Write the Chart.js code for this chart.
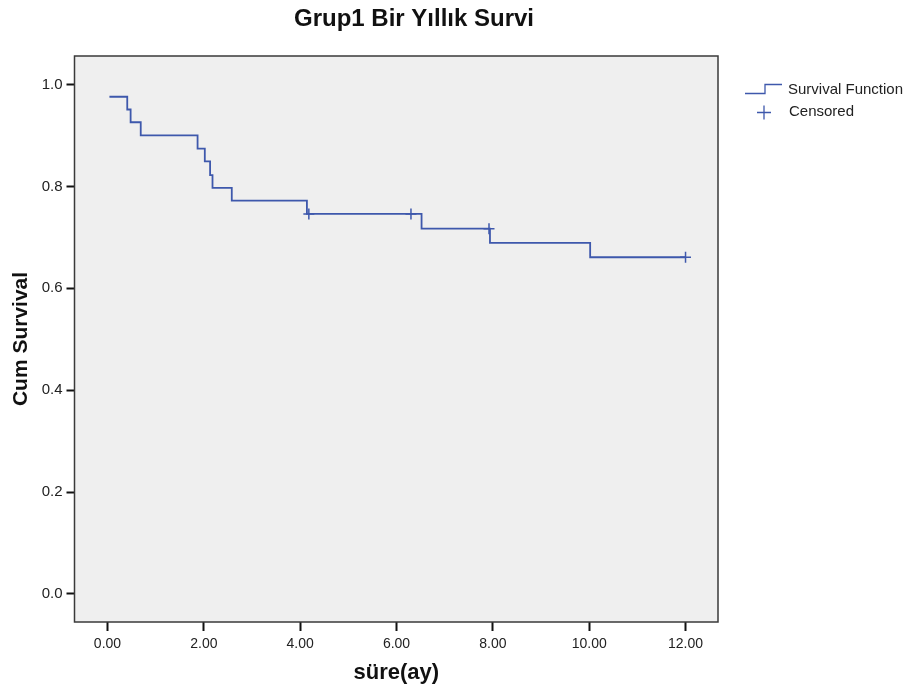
<!DOCTYPE html>
<html><head><meta charset="utf-8">
<script src="https://cdn.jsdelivr.net/npm/chart.js@4.4.1/dist/chart.umd.min.js"></script>
<style>html,body{margin:0;padding:0;background:#fff;} #wrap{width:924px;height:693px;position:relative}</style>
</head><body><div id="wrap"><canvas id="c" width="924" height="693"></canvas></div>
<script>
const chartTitle = 'Grup1 Bir Yıllık Survi';
const xAxisTitle = 'süre(ay)';
const yAxisTitle = 'Cum Survival';
const seriesNames = ['Survival Function', 'Censored'];
const eventTimes = [0.04, 0.41, 0.48, 0.69, 1.87, 2.02, 2.13, 2.18, 2.58, 4.14, 6.52, 7.94, 10.02, 12.0];
const survival   = [0.976, 0.951, 0.926, 0.900, 0.874, 0.849, 0.822, 0.797, 0.772, 0.746, 0.717, 0.689, 0.661, 0.661];
const censorTimes = [4.18, 6.30, 7.92, 12.0];
const censorSurvival = [0.746, 0.746, 0.717, 0.661];
const xTickValues = [0, 2, 4, 6, 8, 10, 12];
const xTickLabels = ['0.00', '2.00', '4.00', '6.00', '8.00', '10.00', '12.00'];
const yTickValues = [0, 0.2, 0.4, 0.6, 0.8, 1.0];
const yTickLabels = ['0.0', '0.2', '0.4', '0.6', '0.8', '1.0'];

const FONT = "'Liberation Sans', Arial, sans-serif";
const BLUE = '#3e58ac';

const framePlugin = {
  id: 'frame',
  beforeDraw(chart) {
    const {ctx, chartArea: a} = chart;
    ctx.save();
    ctx.fillStyle = '#efefef';
    ctx.fillRect(a.left, a.top, a.right - a.left, a.bottom - a.top);
    ctx.restore();
  },
  afterDatasetsDraw(chart) {
    const {ctx, chartArea: a} = chart;
    ctx.save();
    ctx.strokeStyle = '#3a3a3a';
    ctx.lineWidth = 1.5;
    ctx.strokeRect(a.left, a.top, a.right - a.left, a.bottom - a.top);
    ctx.restore();
  }
};

const titleLegendPlugin = {
  id: 'titleLegend',
  afterDraw(chart) {
    const ctx = chart.ctx;
    ctx.save();
    ctx.fillStyle = '#111';
    ctx.font = "bold 24px " + FONT;
    ctx.textAlign = 'center';
    ctx.textBaseline = 'alphabetic';
    ctx.fillText(chartTitle, 414, 26);
    // legend: step icon
    ctx.strokeStyle = BLUE;
    ctx.lineWidth = 1.3;
    ctx.beginPath();
    ctx.moveTo(745, 93.5); ctx.lineTo(765, 93.5); ctx.lineTo(765, 84.5); ctx.lineTo(782, 84.5);
    ctx.stroke();
    // cross
    ctx.beginPath();
    ctx.moveTo(757, 112.5); ctx.lineTo(771, 112.5);
    ctx.moveTo(764, 105.5); ctx.lineTo(764, 119.5);
    ctx.stroke();
    ctx.fillStyle = '#222';
    ctx.font = "15px " + FONT;
    ctx.textAlign = 'left';
    ctx.textBaseline = 'middle';
    ctx.fillText(seriesNames[0], 788, 90);
    ctx.fillText(seriesNames[1], 789, 112);
    ctx.restore();
  }
};

new Chart(document.getElementById('c'), {
  type: 'scatter',
  data: {
    datasets: [
      {
        label: seriesNames[0],
        data: eventTimes.map((t, i) => ({x: t, y: survival[i]})),
        showLine: true,
        stepped: 'before',
        borderColor: BLUE,
        borderWidth: 1.8,
        pointRadius: 0,
        fill: false
      },
      {
        label: seriesNames[1],
        data: censorTimes.map((t, i) => ({x: t, y: censorSurvival[i]})),
        showLine: false,
        pointStyle: 'cross',
        pointRadius: 5.5,
        borderColor: BLUE,
        borderWidth: 1.5,
        backgroundColor: BLUE
      }
    ]
  },
  options: {
    responsive: false,
    animation: false,
    devicePixelRatio: 1,
    layout: {padding: {top: 56, right: 206, left: 0, bottom: 0}},
    plugins: {legend: {display: false}, title: {display: false}, tooltip: {enabled: false}},
    scales: {
      x: {
        type: 'linear',
        min: -0.685,
        max: 12.674,
        afterBuildTicks: s => { s.ticks = xTickValues.map(v => ({value: v})); },
        afterFit: s => { s.height = 71; },
        ticks: {
          callback: v => xTickLabels[xTickValues.indexOf(v)],
          font: {family: FONT, size: 14},
          color: '#222',
          padding: 5,
          autoSkip: false,
          maxRotation: 0
        },
        grid: {drawOnChartArea: false, drawTicks: true, tickLength: 9, tickWidth: 2, tickColor: '#111'},
        border: {display: false},
        title: {display: true, text: xAxisTitle, font: {family: FONT, size: 22, weight: 'bold'}, color: '#111', padding: {top: 0, bottom: 7}}
      },
      y: {
        type: 'linear',
        min: -0.055,
        max: 1.056,
        afterBuildTicks: s => { s.ticks = yTickValues.map(v => ({value: v})); },
        afterFit: s => { s.width = 74.5; },
        ticks: {
          callback: v => yTickLabels[yTickValues.indexOf(v)],
          font: {family: FONT, size: 15},
          color: '#222',
          padding: 4,
          autoSkip: false
        },
        grid: {drawOnChartArea: false, drawTicks: true, tickLength: 8, tickWidth: 2, tickColor: '#111'},
        border: {display: false},
        title: {display: true, text: yAxisTitle, font: {family: FONT, size: 21, weight: 'bold'}, color: '#111', padding: {top: 9, bottom: 0}}
      }
    }
  },
  plugins: [framePlugin, titleLegendPlugin]
});
</script>
</body></html>
